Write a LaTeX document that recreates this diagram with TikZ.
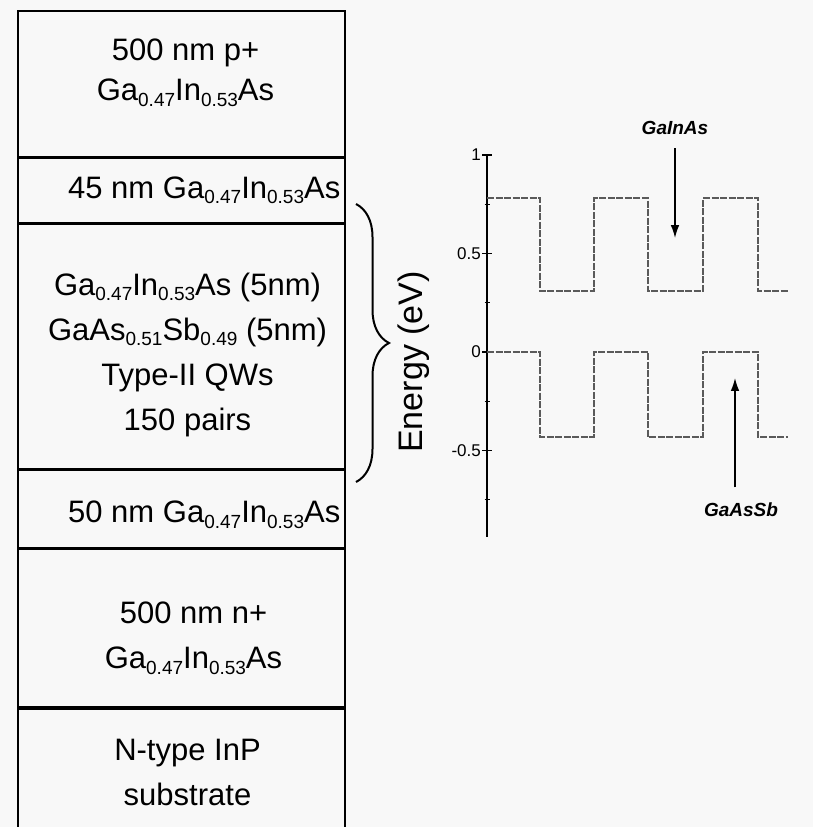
\documentclass[tikz,border=0pt]{standalone}
\usepackage{fontspec}
\setmainfont{Liberation Sans}
\usetikzlibrary{arrows.meta, positioning, decorations.pathreplacing}
\definecolor{paperBg}{HTML}{F8F8F8}
\definecolor{bandLine}{HTML}{5A5A5A}

\newcommand{\lowidx}[1]{\raisebox{-0.35ex}{\fontsize{19}{19}\selectfont#1}}
\newcommand{\gainas}{Ga\lowidx{0.47}In\lowidx{0.53}As}

\begin{document}
\begin{tikzpicture}[
    x=1pt, y=-1pt,
    layer/.style={draw, line width=1.6pt, minimum width=327pt,
                  inner sep=0pt},
    layertext/.style={font=\fontsize{31}{45}\selectfont, align=center},
    band/.style={bandLine, line width=1.9pt, dash pattern=on 7pt off 1.5pt},
    majortick/.style={line width=1.4pt},
    minortick/.style={line width=1.1pt},
    ticklabel/.style={font=\fontsize{17}{17}\selectfont, anchor=east,
                      inner sep=1pt},
    mat/.style={font=\fontsize{19}{19}\selectfont\bfseries\itshape},
    arrow/.style={-{Latex[length=4.5mm, width=3mm]}, line width=1.4pt},
]
\useasboundingbox (0,0) rectangle (813,827);
\fill[paperBg] (0,0) rectangle (813,827);

% layer stack
\node[layer, minimum height=146pt, anchor=north] (ptop) at (181.5,10) {};
\node[layer, minimum height=64pt, below=0pt of ptop]  (top45) {};
\node[layer, minimum height=245pt, below=0pt of top45] (qw) {};
\node[layer, minimum height=77pt, below=0pt of qw]    (bot50) {};
\node[layer, minimum height=158pt, below=0pt of bot50] (nplus) {};
\node[layer, minimum height=127pt, below=0pt of nplus] (subst) {};

\node[layertext, font=\fontsize{31}{40}\selectfont]
    (ptoptext) at ([xshift=4pt, yshift=11pt]ptop.center) {500 nm p+\\\gainas};
\node[layertext, anchor=east] (top45text) at ([xshift=-2pt]top45.east)
    {45 nm \gainas};
\node[layertext] (qwtext) at ([xshift=6pt, yshift=-8pt]qw.center)
    {\gainas{} (5nm)\\GaAs\lowidx{0.51}Sb\lowidx{0.49} (5nm)\\
     Type-II QWs\\150 pairs};
\node[layertext, anchor=east] (bot50text) at ([xshift=-2pt, yshift=-6pt]bot50.east)
    {50 nm \gainas};
\node[layertext] (nplustext) at ([xshift=12pt, yshift=-10pt]nplus.center)
    {500 nm n+\\\gainas};
\node[layertext] (substtext) at ([xshift=6pt]subst.center)
    {N-type InP\\substrate};

% brace over the quantum wells
\coordinate (bracetop) at (356,204);
\coordinate (bracebot) at (356,482);
\draw[decorate, decoration={brace, amplitude=33pt}, line width=2pt]
    (bracetop) -- (bracebot);

\node[rotate=90, font=\fontsize{34}{34}\selectfont] (elabel) at (414,362)
    {Energy (eV)};

% band diagram
\begin{scope}[shift={(487,352)}, y=197pt]
    \draw[line width=1.8pt] (0,1.0) -- (0,-0.94);
    \foreach \e in {1,0.5,0,-0.5}{
        \draw[majortick] (-5,\e) -- (5,\e);
        \node[ticklabel] at (-5,\e) {\e};
    }
    \foreach \e in {0.75,0.25,-0.25,-0.75}
        \draw[minortick] (-2.5,\e) -- (2.5,\e);
    \draw[band] (0,0.78) -| (53,0.31) -| (107,0.78) -| (161,0.31)
        -| (216,0.78) -| (271,0.31) -- (301,0.31);
    \draw[band] (0,0) -| (53,-0.43) -| (107,0) -| (161,-0.43)
        -| (216,0) -| (271,-0.43) -- (301,-0.43);
\end{scope}

\node[mat] (gainaslbl) at (675,128) {GaInAs};
\coordinate (gainastip) at (675,238);
\draw[arrow, shorten <=10pt] (gainaslbl) -- (gainastip);

\node[mat] (gaassblbl) at (741,510) {GaAsSb};
\coordinate (gaassbtip) at (735,378);
\draw[arrow, shorten <=12pt] (gaassblbl.north -| gaassbtip) -- (gaassbtip);
\end{tikzpicture}
\end{document}
